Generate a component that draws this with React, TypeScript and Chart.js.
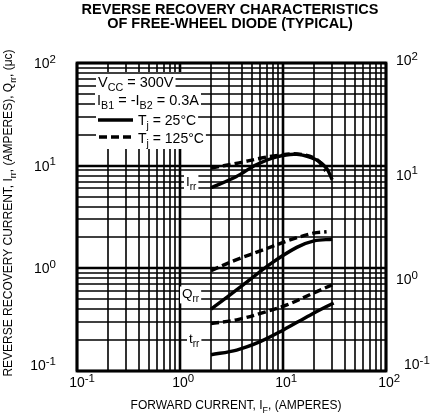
import React, { useEffect, useRef } from 'react';
import { Chart, registerables } from 'chart.js';

Chart.register(...registerables);

// ---- data ----
const X_IRR_25 = [2, 3.5, 5.5, 8.7, 13.6, 21, 26.5, 30];
const IRR_25 = [6.1, 7.8, 10.2, 12.2, 12.9, 11.4, 9.4, 7.3];
const X_IRR_125 = [2, 3.5, 6, 9, 13.6, 21, 26];
const IRR_125 = [9.5, 10.5, 11.8, 12.6, 13.0, 11.6, 8.9];
const X_QRR_25 = [2, 4.1, 7.5, 13.6, 20, 30];
const QRR_25 = [0.4, 0.69, 1.1, 1.6, 1.85, 1.92];
const X_QRR_125 = [2, 3.5, 6.4, 11.7, 19.7, 26.5];
const QRR_125 = [0.95, 1.21, 1.51, 1.89, 2.2, 2.27];
const X_TRR_25 = [2, 3.55, 6, 10, 18.3, 31];
const TRR_25 = [0.144, 0.16, 0.193, 0.25, 0.35, 0.46];
const X_TRR_125 = [2, 3.55, 6.4, 10.9, 21, 30];
const TRR_125 = [0.29, 0.315, 0.37, 0.44, 0.59, 0.69];

const AXIS_MIN = 0.1;
const AXIS_MAX = 100;
const DECADE_TICKS = [0.1, 1, 10, 100];
const DECADE_EXPONENTS = ['-1', '0', '1', '2'];

const TITLE_LINES = ['REVERSE RECOVERY CHARACTERISTICS', 'OF FREE-WHEEL DIODE (TYPICAL)'];

const FONT = '"Liberation Sans", Arial, Helvetica, sans-serif';

type Seg = [string, number]; // 0 normal, 1 subscript, 2 superscript

function segFont(size: number, kind: number, weight: string) {
  const s = kind === 0 ? size : kind === 2 ? size * 0.82 : size * 0.74;
  return `${weight} ${s}px ${FONT}`;
}

function richWidth(ctx: CanvasRenderingContext2D, segs: Seg[], size: number, weight: string) {
  let w = 0;
  for (const [t, k] of segs) {
    ctx.font = segFont(size, k, weight);
    w += ctx.measureText(t).width;
  }
  return w;
}

function drawRich(
  ctx: CanvasRenderingContext2D,
  x: number,
  y: number,
  segs: Seg[],
  size: number,
  align: 'left' | 'center' | 'right' = 'left',
  weight = 'normal',
  bg = false
) {
  const w = richWidth(ctx, segs, size, weight);
  let cx = x;
  if (align === 'center') cx = x - w / 2;
  if (align === 'right') cx = x - w;
  if (bg) {
    ctx.fillStyle = '#fff';
    ctx.fillRect(cx - 2, y - size * 0.85, w + 4, size * 1.25);
  }
  ctx.fillStyle = '#000';
  ctx.textAlign = 'left';
  ctx.textBaseline = 'alphabetic';
  for (const [t, k] of segs) {
    ctx.font = segFont(size, k, weight);
    const dy = k === 1 ? size * 0.3 : k === 2 ? -size * 0.38 : 0;
    ctx.fillText(t, cx, y + dy);
    cx += ctx.measureText(t).width + (k === 2 ? 0 : 0);
  }
  return w;
}

function pts(xs: number[], ys: number[]) {
  return xs.map((x, i) => ({ x, y: ys[i] }));
}

function gridValues() {
  const out: number[] = [];
  for (let e = -1; e < 2; e++) {
    for (let m = 1; m < 10; m++) out.push(m * Math.pow(10, e));
  }
  out.push(100);
  return out;
}

const paperPlugin = {
  id: 'paper',
  beforeDatasetsDraw(chart: any) {
    const ctx: CanvasRenderingContext2D = chart.ctx;
    const { left, right, top, bottom } = chart.chartArea;
    const xs = chart.scales.x;
    const ys = chart.scales.y;
    ctx.save();
    ctx.strokeStyle = '#000';
    const vals = gridValues();
    // vertical grid lines
    for (const v of vals) {
      const px = Math.round(xs.getPixelForValue(v));
      const major = DECADE_TICKS.includes(v);
      ctx.lineWidth = major ? 2.6 : 1.6;
      ctx.beginPath();
      if (px > left + 4 && px < 206) {
        ctx.moveTo(px, top);
        ctx.lineTo(px, 72);
        ctx.moveTo(px, 149);
        ctx.lineTo(px, bottom);
      } else {
        ctx.moveTo(px, top);
        ctx.lineTo(px, bottom);
      }
      ctx.stroke();
    }
    // horizontal grid lines
    for (const v of vals) {
      const py = Math.round(ys.getPixelForValue(v));
      const major = DECADE_TICKS.includes(v);
      ctx.lineWidth = major ? 2.6 : 1.6;
      ctx.beginPath();
      ctx.moveTo(left, py);
      ctx.lineTo(right, py);
      ctx.stroke();
    }
    // frame
    ctx.lineWidth = 2.8;
    ctx.strokeStyle = '#000';
    ctx.strokeRect(left, top, right - left, bottom - top);

    // condition box text
    drawRich(ctx, 98, 87, [['V', 0], ['CC', 1], [' = 300V', 0]], 14.5, 'left', 'normal', true);
    drawRich(ctx, 97, 105, [['I', 0], ['B1', 1], [' = -I', 0], ['B2', 1], [' = 0.3A', 0]], 14.5, 'left', 'normal', true);
    ctx.fillStyle = '#fff';
    ctx.fillRect(96, 114, 40, 12);
    ctx.fillRect(96, 131, 40, 12);
    ctx.strokeStyle = '#000';
    ctx.lineWidth = 3.5;
    ctx.setLineDash([]);
    ctx.beginPath();
    ctx.moveTo(98, 120);
    ctx.lineTo(133, 120);
    ctx.stroke();
    ctx.setLineDash([8, 4]);
    ctx.beginPath();
    ctx.moveTo(99, 137);
    ctx.lineTo(133, 137);
    ctx.stroke();
    ctx.setLineDash([]);
    drawRich(ctx, 138, 125, [['T', 0], ['j', 1], [' = 25°C', 0]], 14, 'left', 'normal', true);
    drawRich(ctx, 138, 143, [['T', 0], ['j', 1], [' = 125°C', 0]], 14, 'left', 'normal', true);

    // curve labels
    drawRich(ctx, 186, 186, [['I', 0], ['rr', 1]], 13.5, 'left', 'normal', true);
    drawRich(ctx, 182, 298, [['Q', 0], ['rr', 1]], 13.5, 'left', 'normal', true);
    drawRich(ctx, 189, 343, [['t', 0], ['rr', 1]], 13.5, 'left', 'normal', true);
    ctx.restore();
  },
  afterDraw(chart: any) {
    const ctx: CanvasRenderingContext2D = chart.ctx;
    const xs = chart.scales.x;
    const ys = chart.scales.y;
    ctx.save();
    // title
    ctx.fillStyle = '#000';
    ctx.textAlign = 'center';
    ctx.font = `bold 14.5px ${FONT}`;
    ctx.fillText(TITLE_LINES[0], 230, 14);
    ctx.fillText(TITLE_LINES[1], 230, 28);

    // tick labels
    const rightDy = [-2, 16, 14, 2];
    DECADE_TICKS.forEach((v, i) => {
      const segs: Seg[] = [['10', 0], [DECADE_EXPONENTS[i], 2]];
      const size = 14;
      // bottom axis
      const px = xs.getPixelForValue(v);
      ctx.font = segFont(size, 0, 'normal');
      const baseW = ctx.measureText('10').width;
      drawRich(ctx, px - baseW / 2, 387, segs, size, 'left');
      // left axis
      const py = ys.getPixelForValue(v);
      drawRich(ctx, 56, py + (i === 0 ? -1 : 5), segs, size, 'right');
      // right axis
      drawRich(ctx, 396 + (i === 0 ? 8 : 0), py + rightDy[i], segs, size, 'left');
    });

    // x axis title
    drawRich(ctx, 236, 409, [['FORWARD CURRENT, I', 0], ['F', 1], [', (AMPERES)', 0]], 12, 'center');

    // y axis title (rotated)
    ctx.translate(12, 213);
    ctx.rotate(-Math.PI / 2);
    drawRich(
      ctx,
      0,
      0,
      [['REVERSE RECOVERY CURRENT, I', 0], ['rr', 1], [', (AMPERES), Q', 0], ['rr', 1], [', (μc)', 0]],
      12,
      'center'
    );
    ctx.restore();
  },
};

export default function App() {
  const ref = useRef<HTMLCanvasElement>(null);
  useEffect(() => {
    if (!ref.current) return;
    const solid = { borderColor: '#000', borderWidth: 3.4, pointRadius: 0, tension: 0.35, fill: false, borderCapStyle: 'butt' as const };
    const dashed = { ...solid, borderDash: [8, 4] };
    const hiddenScale = (pos: string) => ({
      type: 'logarithmic' as const,
      position: pos,
      min: AXIS_MIN,
      max: AXIS_MAX,
      grid: { display: false, drawTicks: false },
      border: { display: false },
      ticks: { display: false },
      afterFit: (s: any) => {
        if (pos === 'left') s.width = 0;
        else s.height = 0;
      },
    });
    const chart = new Chart(ref.current, {
      type: 'line',
      data: {
        datasets: [
          { label: 'Irr 25°C', data: pts(X_IRR_25, IRR_25), ...solid },
          { label: 'Irr 125°C', data: pts(X_IRR_125, IRR_125), ...dashed },
          { label: 'Qrr 25°C', data: pts(X_QRR_25, QRR_25), ...solid },
          { label: 'Qrr 125°C', data: pts(X_QRR_125, QRR_125), ...dashed },
          { label: 'trr 25°C', data: pts(X_TRR_25, TRR_25), ...solid },
          { label: 'trr 125°C', data: pts(X_TRR_125, TRR_125), ...dashed },
        ],
      },
      options: {
        responsive: false,
        animation: false,
        events: [],
        layout: { padding: { left: 77, right: 52, top: 63, bottom: 46 } },
        scales: {
          x: hiddenScale('bottom') as any,
          y: hiddenScale('left') as any,
        },
        plugins: { legend: { display: false }, tooltip: { enabled: false }, title: { display: false } },
      },
      plugins: [paperPlugin],
    });
    return () => chart.destroy();
  }, []);
  return (
    <div style={{ position: 'absolute', left: 0, top: 0, width: 438, height: 417, background: '#fff' }}>
      <canvas ref={ref} width={438} height={417} style={{ width: 438, height: 417 }} />
    </div>
  );
}
